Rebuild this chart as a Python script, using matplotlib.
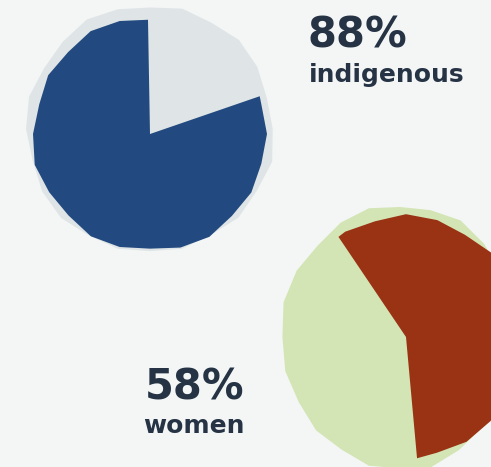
import numpy as np
import matplotlib
matplotlib.use('Agg')
import matplotlib.pyplot as plt
from matplotlib.patches import Polygon

# values as drawn in the picture
labels = ['indigenous', 'women']
pct_text = ['88%', '58%']
shares_drawn = [0.80, 0.58]

BG = '#f4f6f6'
TEXT = '#253345'

# hand-drawn look: radius factor at each outline vertex (style only)
wobble = [1.0, 0.985, 1.01, 0.995, 1.02, 0.99, 0.975, 1.0, 1.015, 0.99,
          1.005, 0.98, 1.0, 1.02, 0.995, 0.985, 1.01, 1.0, 0.98, 1.005,
          1.015, 0.99, 1.0, 0.985]


def outline_radius(theta, r, shift=0):
    n = len(wobble)
    step = 360.0 / n
    t = (theta % 360) / step
    i = int(np.floor(t)) % n
    f = t - np.floor(t)
    a = wobble[(i + shift) % n]
    b = wobble[(i + 1 + shift) % n]
    return r * (a + (b - a) * f)


def wobbly_wedge(cx, cy, r, start, span, shift=0, squash=1.0):
    # span > 0 counterclockwise, < 0 clockwise (degrees, screen orientation)
    n = len(wobble)
    step = 360.0 / n
    end = start + span
    lo, hi = min(start, end), max(start, end)
    k = np.ceil(lo / step)
    inner = []
    while k * step < hi:
        inner.append(k * step)
        k += 1
    if span < 0:
        inner = inner[::-1]
    angles = [start] + inner + [end]
    pts = []
    if abs(span) < 360:
        pts.append((cx, cy))
    for a in angles:
        rr = outline_radius(a, r, shift)
        pts.append((cx + squash * rr * np.cos(np.radians(a)),
                    cy - rr * np.sin(np.radians(a))))
    return pts


fig = plt.figure(figsize=(4.91, 4.67), dpi=100)
fig.patch.set_facecolor(BG)
ax = fig.add_axes([0, 0, 1, 1])
ax.set_xlim(0, 491)
ax.set_ylim(467, 0)
ax.axis('off')
ax.set_facecolor(BG)

# top pie: indigenous
ax.add_patch(Polygon(wobbly_wedge(150, 129, 124, 0, 360, shift=5), closed=True,
                     facecolor='#dfe5e6', edgecolor='none'))
ax.add_patch(Polygon(wobbly_wedge(150, 134, 117, 91, 360 * shares_drawn[0]), closed=True,
                     facecolor='#234a80', edgecolor='none'))

# bottom pie: women
ax.add_patch(Polygon(wobbly_wedge(400, 337, 132, 0, 360, shift=9, squash=0.9), closed=True,
                     facecolor='#d4e5b5', edgecolor='none'))
ax.add_patch(Polygon(wobbly_wedge(406, 337, 121, 124, -360 * shares_drawn[1], shift=2), closed=True,
                     facecolor='#993314', edgecolor='none'))

font = 'DejaVu Sans'
ax.text(308, 48, pct_text[0], fontsize=30, fontweight='bold', color=TEXT,
        family=font, ha='left', va='baseline')
ax.text(309, 82, labels[0], fontsize=18, fontweight='bold', color=TEXT,
        family=font, ha='left', va='baseline')
ax.text(195, 400, pct_text[1], fontsize=30, fontweight='bold', color=TEXT,
        family=font, ha='center', va='baseline')
ax.text(194, 433, labels[1], fontsize=18, fontweight='bold', color=TEXT,
        family=font, ha='center', va='baseline')

fig.savefig('out.png', dpi=100, facecolor=BG)
